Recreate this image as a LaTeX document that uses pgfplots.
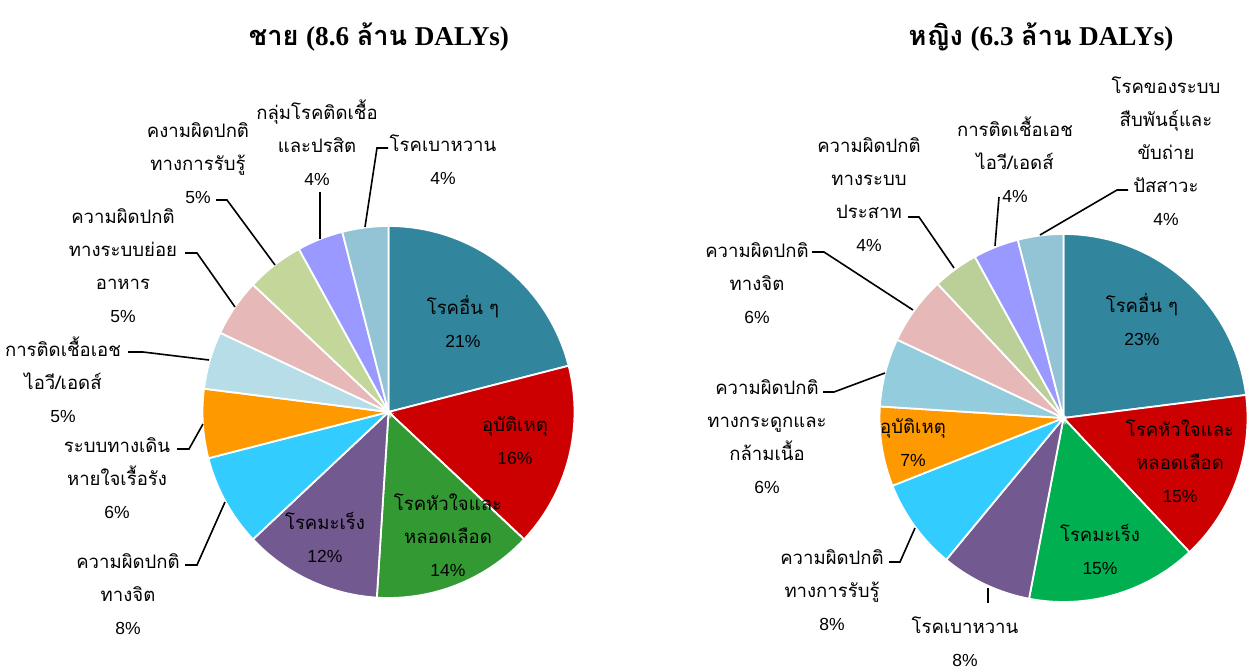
\documentclass[border=0pt]{standalone}
\usepackage{fontspec}
\setmainfont{Liberation Sans}
\newfontfamily\thai[Script=Thai,Scale=1.06]{Loma}
\newfontfamily\thaiT[Script=Thai]{Loma}
\newfontfamily\tser{Liberation Serif}
\usepackage{pgfplots}
\usepackage{pgfplotstable}
\pgfplotsset{compat=1.18}

\definecolor{mTeal}{HTML}{31859C}
\definecolor{mRed}{HTML}{CC0000}
\definecolor{mGreen}{HTML}{339933}
\definecolor{fGreen}{HTML}{00B050}
\definecolor{mPurple}{HTML}{72598F}
\definecolor{mCyan}{HTML}{33CCFF}
\definecolor{mOrange}{HTML}{FF9900}
\definecolor{mLBlue}{HTML}{B7DEE8}
\definecolor{fLBlue}{HTML}{93CDDD}
\definecolor{mPink}{HTML}{E6B9B8}
\definecolor{mLGreen}{HTML}{C4D79B}
\definecolor{fLGreen}{HTML}{BBCF98}
\definecolor{mLav}{HTML}{9999FF}
\definecolor{mBlue}{HTML}{93C4D5}

% share of DALYs (%), clockwise from 12 o'clock
\pgfplotstableread{
pct col
21 mTeal
16 mRed
14 mGreen
12 mPurple
8  mCyan
6  mOrange
5  mLBlue
5  mPink
5  mLGreen
4  mLav
4  mBlue
}\maletab

\pgfplotstableread{
pct col
23 mTeal
15 mRed
15 fGreen
8  mPurple
8  mCyan
7  mOrange
6  fLBlue
6  mPink
4  fLGreen
4  mLav
4  mBlue
}\femaletab

% #1 table, #2 #3 centre (px), #4 radius (px)
\newcommand\piechart[4]{%
  \pgfplotstablegetrowsof{#1}\let\nrows\pgfplotsretval
  \def\cum{0}%
  \pgfplotsforeachungrouped \i in {1,...,\nrows}{%
    \pgfmathtruncatemacro\row{\i-1}%
    \pgfplotstablegetelem{\row}{pct}\of#1\let\slpct\pgfplotsretval
    \pgfplotstablegetelem{\row}{col}\of#1\let\slcol\pgfplotsretval
    \pgfmathsetmacro\angA{90-3.6*\cum}%
    \pgfmathsetmacro\angB{90-3.6*(\cum+\slpct)}%
    \edef\temp{\noexpand\fill[\slcol, draw=white, line width=0.9pt]
      (axis cs:#2,#3) -- ++(\angA:#4*0.5pt)
      arc[start angle=\angA, end angle=\angB, radius=#4*0.5pt] -- cycle;}%
    \temp
    \pgfmathsetmacro\cum{\cum+\slpct}%
  }%
}

\newcommand\lf{\fontsize{8.75}{16.5}\selectfont}
\newcommand\tf{\fontsize{13.6}{17}\selectfont\bfseries}
\tikzset{lab/.style={align=center, font=\lf, inner sep=0pt},
         lead/.style={line width=0.8pt}}

\begin{document}
\begin{tikzpicture}
\begin{axis}[
    x=0.5pt, y=0.5pt,
    xmin=0, xmax=1248, ymin=0, ymax=668,
    y dir=reverse,
    hide axis, clip=false,
]
\piechart{\maletab}{388.5}{412}{186}
\piechart{\femaletab}{1063.5}{418}{184}

% titles
\node[anchor=base, font=\tf] at (axis cs:379,46) {{\thaiT ชาย} {\tser (8.6} {\thaiT ล้าน} {\tser DALYs)}};
\node[anchor=base, font=\tf] at (axis cs:1041,46) {{\thaiT หญิง} {\tser (6.3} {\thaiT ล้าน} {\tser DALYs)}};

% male labels
\node[lab] at (axis cs:463,322) {{\thai โรคอื่น ๆ}\\21\%};
\node[lab] at (axis cs:515,441) {{\thai อุบัติเหตุ}\\16\%};
\node[lab] at (axis cs:448,535) {{\thai โรคหัวใจและ}\\{\thai หลอดเลือด}\\14\%};
\node[lab] at (axis cs:325,537) {{\thai โรคมะเร็ง}\\12\%};
\node[lab] at (axis cs:128,594) {{\thai ความผิดปกติ}\\{\thai ทางจิต}\\8\%};
\node[lab] at (axis cs:117,478) {{\thai ระบบทางเดิน}\\{\thai หายใจเรื้อรัง}\\6\%};
\node[lab] at (axis cs:63,380) {{\thai การติดเชื้อเอช}\\{\thai ไอวี/เอดส์}\\5\%};
\node[lab] at (axis cs:123,266) {{\thai ความผิดปกติ}\\{\thai ทางระบบย่อย}\\{\thai อาหาร}\\5\%};
\node[lab] at (axis cs:198,163) {{\thai คงามผิดปกติ}\\{\thai ทางการรับรู้}\\5\%};
\node[lab] at (axis cs:317,143) {{\thai กลุ่มโรคติดเชื้อ}\\{\thai และปรสิต}\\4\%};
\node[lab] at (axis cs:443,160) {{\thai โรคเบาหวาน}\\4\%};

\draw[lead] (axis cs:185,565) -- (axis cs:197,565) -- (axis cs:225,502);
\draw[lead] (axis cs:177,449) -- (axis cs:189,449) -- (axis cs:203,424);
\draw[lead] (axis cs:128,352) -- (axis cs:143,352) -- (axis cs:209,360);
\draw[lead] (axis cs:185,253) -- (axis cs:197,253) -- (axis cs:235,307);
\draw[lead] (axis cs:216,200) -- (axis cs:227,200) -- (axis cs:275,265);
\draw[lead] (axis cs:320,192) -- (axis cs:320,239);
\draw[lead] (axis cs:388,148) -- (axis cs:377,148) -- (axis cs:365,227);

% female labels
\node[lab] at (axis cs:1142,320) {{\thai โรคอื่น ๆ}\\23\%};
\node[lab] at (axis cs:1180,461) {{\thai โรคหัวใจและ}\\{\thai หลอดเลือด}\\15\%};
\node[lab] at (axis cs:1100,550) {{\thai โรคมะเร็ง}\\15\%};
\node[lab] at (axis cs:913,443) {{\thai อุบัติเหตุ}\\7\%};
\node[lab] at (axis cs:965,642) {{\thai โรคเบาหวาน}\\8\%};
\node[lab] at (axis cs:832,590) {{\thai ความผิดปกติ}\\{\thai ทางการรับรู้}\\8\%};
\node[lab] at (axis cs:767,437) {{\thai ความผิดปกติ}\\{\thai ทางกระดูกและ}\\{\thai กล้ามเนื้อ}\\6\%};
\node[lab] at (axis cs:757,283) {{\thai ความผิดปกติ}\\{\thai ทางจิต}\\6\%};
\node[lab] at (axis cs:869,195) {{\thai ความผิดปกติ}\\{\thai ทางระบบ}\\{\thai ประสาท}\\4\%};
\node[lab] at (axis cs:1015,160) {{\thai การติดเชื้อเอช}\\{\thai ไอวี/เอดส์}\\4\%};
\node[lab] at (axis cs:1166,151) {{\thai โรคของระบบ}\\{\thai สืบพันธุ์และ}\\{\thai ขับถ่าย}\\{\thai ปัสสาวะ}\\4\%};

\draw[lead] (axis cs:988,588) -- (axis cs:988,603);
\draw[lead] (axis cs:889,562) -- (axis cs:900,562) -- (axis cs:915,528);
\draw[lead] (axis cs:823,392) -- (axis cs:834,392) -- (axis cs:885,373);
\draw[lead] (axis cs:812,252) -- (axis cs:824,252) -- (axis cs:913,310);
\draw[lead] (axis cs:908,217) -- (axis cs:919,217) -- (axis cs:954,268);
\draw[lead] (axis cs:999,197) -- (axis cs:995,246);
\draw[lead] (axis cs:1128,190) -- (axis cs:1117,190) -- (axis cs:1040,235);
\end{axis}
\pgfresetboundingbox
\path (current axis.south west) rectangle (current axis.north east);
\end{tikzpicture}
\end{document}
